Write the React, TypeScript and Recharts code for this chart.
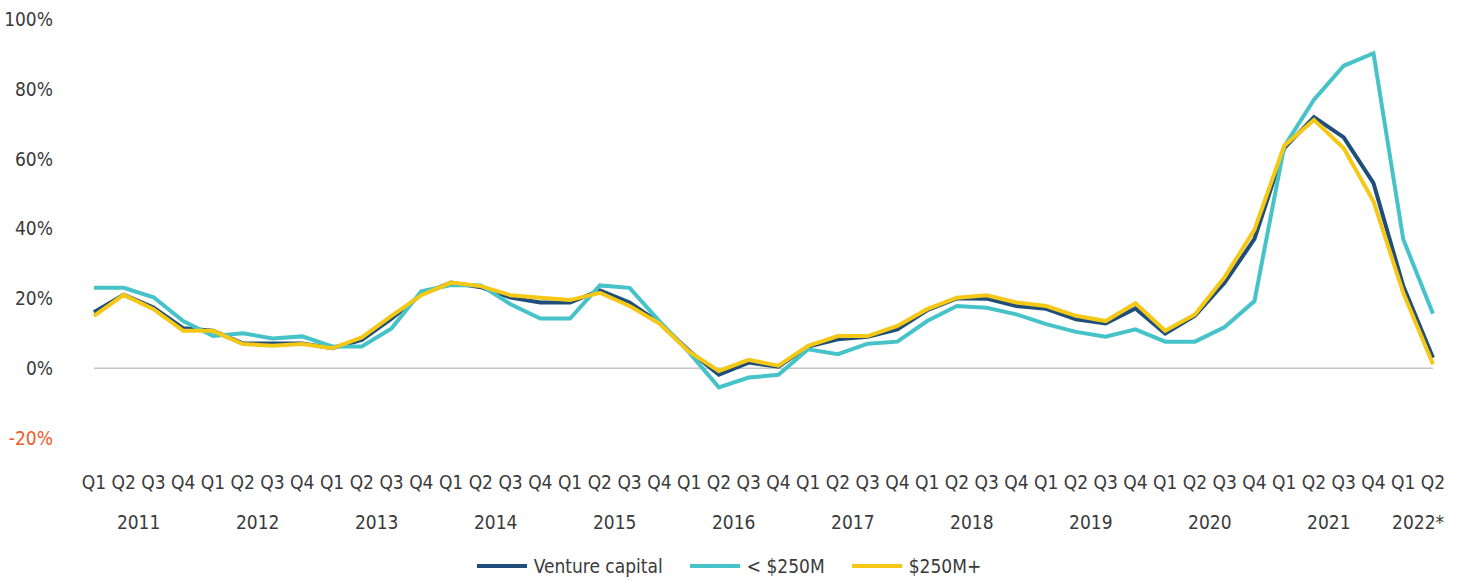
import React from "react";
import { Legend, Line, LineChart, ReferenceLine, XAxis, YAxis } from "recharts";

const years = ["2011", "2012", "2013", "2014", "2015", "2016", "2017", "2018", "2019", "2020", "2021", "2022*"];
const quarters = ["Q1", "Q2", "Q3", "Q4"];

// % values per quarter, 2011 Q1 .. 2022 Q2
const ventureCapital = [
  16, 21, 17.4, 11.4, 10.7, 7.1, 7.1, 7.1, 5.7, 8.1, 14.2, 21.1,
  24.5, 23.2, 20.2, 18.8, 18.8, 22.3, 18.8, 13, 5, -1.9, 1.6, 0.4,
  6.2, 8.3, 9, 11.1, 16.6, 20, 19.9, 17.8, 17, 14, 12.8, 17.1,
  9.9, 15, 24.5, 37, 63, 71.9, 66.1, 53, 23.5, 3,
];
const under250M = [
  23, 23, 20.3, 13.5, 9.2, 10, 8.5, 9.1, 6.2, 6.2, 11.4, 22,
  23.8, 23.7, 18.3, 14.2, 14.2, 23.7, 23, 13.5, 4.5, -5.5, -2.7, -1.9,
  5.4, 4, 7, 7.6, 13.5, 17.8, 17.3, 15.4, 12.6, 10.4, 9, 11.1,
  7.6, 7.6, 11.8, 19.2, 63.5, 76.9, 86.6, 90.2, 36.9, 15.6,
];
const over250M = [
  15, 21, 16.9, 10.7, 10.7, 6.9, 6.4, 6.9, 5.7, 8.8, 15, 20.9,
  24.5, 23.5, 20.9, 20.2, 19.5, 21.6, 17.8, 12.8, 4.7, -0.8, 2.4, 0.7,
  6.4, 9.2, 9.2, 12.1, 16.9, 20.2, 20.9, 18.8, 17.8, 15, 13.5, 18.6,
  10.7, 15.4, 26.1, 39.7, 63.7, 71.1, 63, 47.8, 21.6, 1.1,
];
const yTicks = [-20, 0, 20, 40, 60, 80, 100];

const series = [
  { key: "vc", name: "Venture capital", color: "#1f4e7a" },
  { key: "small", name: "< $250M", color: "#46c3c8" },
  { key: "large", name: "$250M+", color: "#f5c816" },
];

const data = ventureCapital.map((v, i) => ({
  period: `${years[Math.floor(i / 4)]} ${quarters[i % 4]}`,
  vc: v,
  small: under250M[i],
  large: over250M[i],
}));

const WIDTH = 1458;
const HEIGHT = 580;
const MARGIN = { top: 19, right: 25, left: 0, bottom: 88 };
const Y_AXIS_W = 94;
const STEP = (WIDTH - Y_AXIS_W - MARGIN.right) / (data.length - 1);
const FONT = "'DejaVu Sans Condensed', 'Liberation Sans Narrow', sans-serif";
const FONT_SIZE = 19;
const TEXT = "#3a3a3a";

const QuarterTick = (props: any) => {
  const { x, y, payload } = props;
  const i = payload.index;
  const yearIdx = Math.floor(i / 4);
  const inYear = Math.min(4, data.length - yearIdx * 4);
  return (
    <g>
      <text x={x} y={y + 51} textAnchor="middle" fill={TEXT} fontSize={FONT_SIZE} fontFamily={FONT}>
        {quarters[i % 4]}
      </text>
      {i % 4 === 0 && (
        <text
          x={x + ((inYear - 1) / 2) * STEP}
          y={y + 91}
          textAnchor="middle"
          fill={TEXT}
          fontSize={FONT_SIZE}
          fontFamily={FONT}
        >
          {years[yearIdx]}
        </text>
      )}
    </g>
  );
};

const PercentTick = (props: any) => {
  const { x, y, payload } = props;
  return (
    <text
      x={x}
      y={y}
      dy="0.36em"
      textAnchor="end"
      fill={payload.value < 0 ? "#f15a29" : TEXT}
      fontSize={FONT_SIZE}
      fontFamily={FONT}
    >
      {`${payload.value}%`}
    </text>
  );
};

const renderLegend = () => (
  <div
    style={{
      display: "flex",
      justifyContent: "center",
      alignItems: "center",
      gap: 27,
      height: 24,
      fontSize: FONT_SIZE,
      color: TEXT,
      fontFamily: FONT,
    }}
  >
    {series.map((s) => (
      <div key={s.key} style={{ display: "flex", alignItems: "center" }}>
        <span style={{ width: 50, height: 4, background: s.color, marginRight: 7, display: "inline-block" }} />
        <span>{s.name}</span>
      </div>
    ))}
  </div>
);

export default function App() {
  return (
    <div style={{ position: "absolute", left: 0, top: 0, width: WIDTH, height: HEIGHT, background: "#fff", fontFamily: FONT }}>
      <LineChart width={WIDTH} height={HEIGHT} data={data} margin={MARGIN}>
        <XAxis
          dataKey="period"
          interval={0}
          axisLine={false}
          tickLine={false}
          tickSize={0}
          tickMargin={0}
          tick={<QuarterTick />}
        />
        <YAxis
          width={Y_AXIS_W}
          domain={[-20, 100]}
          ticks={yTicks}
          axisLine={false}
          tickLine={false}
          tickSize={0}
          tickMargin={41}
          tick={<PercentTick />}
        />
        <ReferenceLine y={0} stroke="#c4c4c4" strokeWidth={1.5} />
        {series.map((s) => (
          <Line
            key={s.key}
            dataKey={s.key}
            name={s.name}
            stroke={s.color}
            strokeWidth={4}
            dot={false}
            type="linear"
            isAnimationActive={false}
          />
        ))}
        <Legend
          verticalAlign="bottom"
          content={renderLegend}
          wrapperStyle={{ top: 554, bottom: "auto", left: 0, width: WIDTH }}
        />
      </LineChart>
    </div>
  );
}
